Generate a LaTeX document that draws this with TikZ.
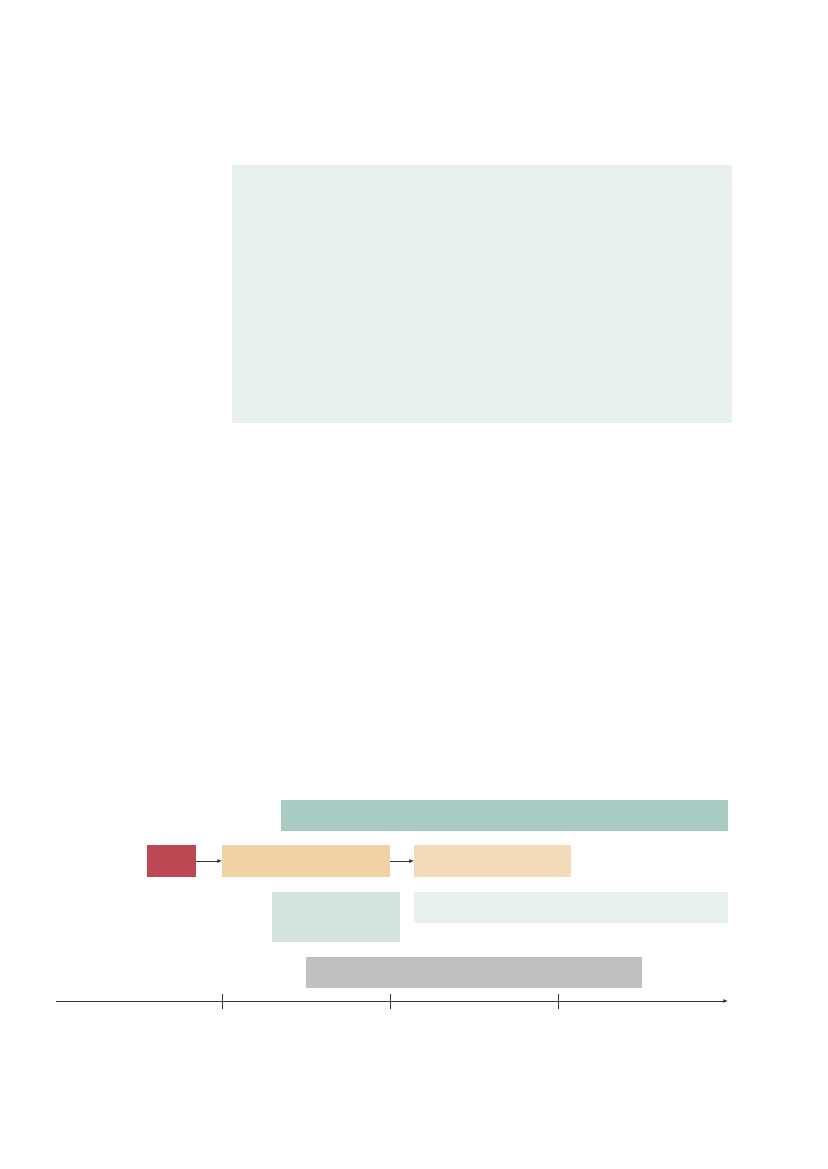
\documentclass[tikz,border=0pt]{standalone}
\usetikzlibrary{arrows.meta}
\definecolor{panelgreen}{HTML}{E8F1EE}
\definecolor{tealbar}{HTML}{A7CBC3}
\definecolor{redbox}{HTML}{BB4853}
\definecolor{orangeA}{HTML}{F0D2A4}
\definecolor{orangeB}{HTML}{F3DAB8}
\definecolor{tealpale}{HTML}{D2E2DE}
\definecolor{greybar}{HTML}{BFBFBF}
\definecolor{axisgrey}{HTML}{333333}
\begin{document}
\begin{tikzpicture}[x=0.75pt,y=0.75pt,yscale=-1,
  bar/.style={inner sep=0pt,outer sep=0pt,minimum height=24pt},
  link/.style={draw=axisgrey,line width=0.6pt,-{Latex[length=3.5pt,width=3pt]}}]
\useasboundingbox (0,0) rectangle (827,1169);

%Panel
\node[bar,fill=panelgreen,minimum width=375pt,minimum height=193.5pt] (panel) at (482,294) {};

%Bars
\node[bar,fill=tealbar,minimum width=335.25pt,minimum height=23.6pt] (top) at (504.5,815.25) {};
\node[bar,fill=redbox,minimum width=36.75pt] (start) at (171.5,861) {};
\node[bar,fill=orangeA,minimum width=126pt] (phaseA) at (306,861) {};
\node[bar,fill=orangeB,minimum width=117.75pt] (phaseB) at (492.5,861) {};
\node[bar,fill=tealpale,minimum width=96pt,minimum height=37.5pt] (block) at (336,917) {};
\node[bar,fill=panelgreen,minimum width=235.5pt,minimum height=23.25pt] (strip) at (571,907.5) {};
\node[bar,fill=greybar,minimum width=252pt,minimum height=23.25pt] (base) at (474,972.5) {};

%Arrows
\draw[link] (start) -- (phaseA);
\draw[link] (phaseA) -- (phaseB);

%Time axis
\coordinate (ax0) at (56,1001);
\coordinate (ax1) at (728,1001);
\draw[link] (ax0) -- (ax1);
\foreach \tx in {222,390,558}
  \draw[axisgrey,line width=0.6pt] (\tx,994) -- (\tx,1009);

\end{tikzpicture}
\end{document}
